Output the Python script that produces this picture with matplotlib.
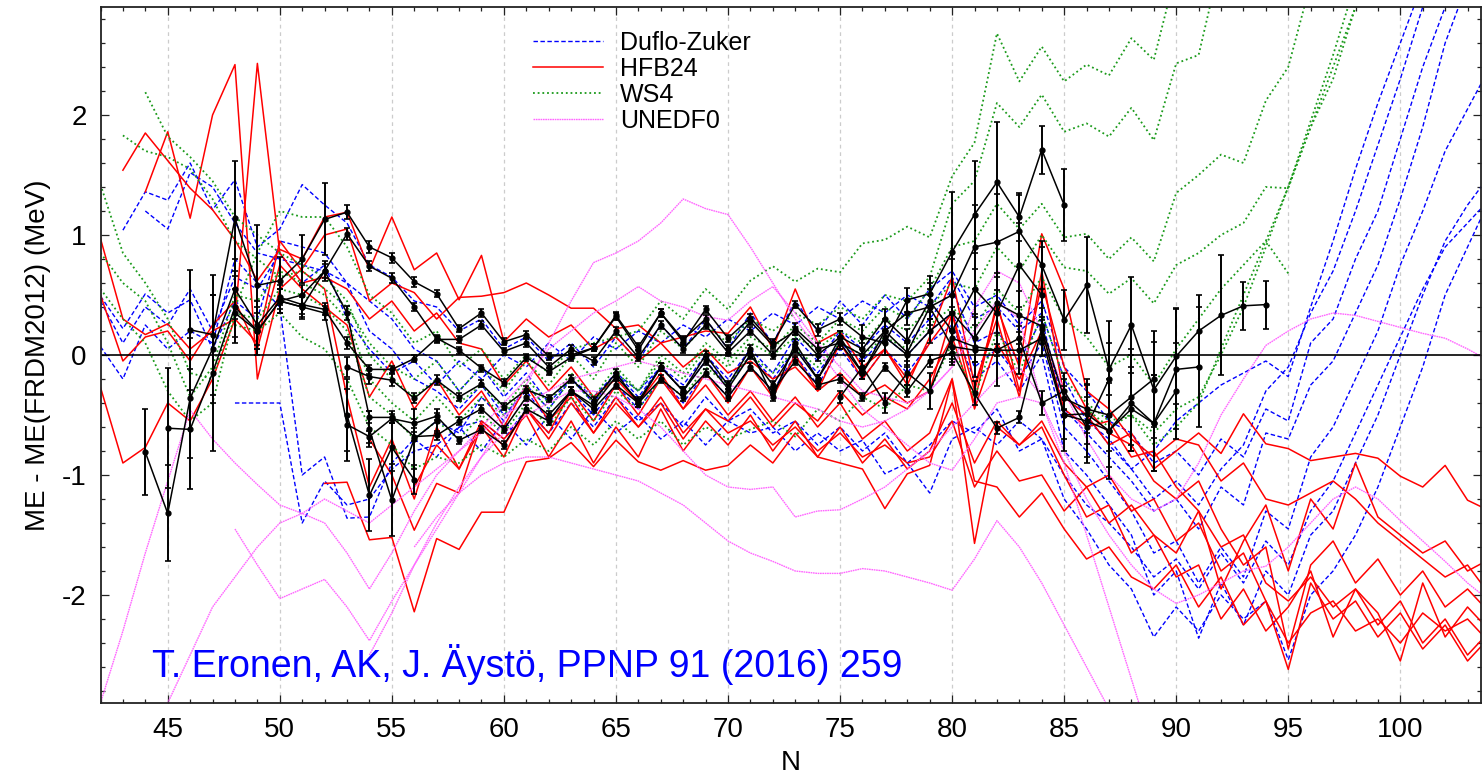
import numpy as np
import matplotlib
matplotlib.use("Agg")
import matplotlib.pyplot as plt
from matplotlib.ticker import MultipleLocator, FixedLocator

plt.rcParams['font.family'] = ['Liberation Sans', 'DejaVu Sans']
plt.rcParams['axes.unicode_minus'] = False

# ---------------- data: (first N, values) per isotopic chain ----------------
# Duflo-Zuker
dz1_start, dz1 = 43, [1.04, 1.36, 1.29, 1.60, 1.21, 1.46, 0.90, 1.05, 1.42, 1.25, 1.10, 0.75, 0.65, 0.45, 0.40,
                      0.20, 0.30, 0.05, 0.15, -0.05, 0.10, -0.10, 0.15, -0.05, 0.25, 0.05, 0.30, 0.05, 0.35, 0.10,
                      0.45, 0.20, 0.45, 0.25, 0.50, 0.30, 0.55, 0.70, 0.40, 0.50, 0.25, 0.45, -0.10, -0.30, -0.55,
                      -0.65, -0.90, -0.80, -1.00, -0.70, -0.85, -0.45, -0.55, 0.10, 0.30, 0.80, 1.20, 1.80, 2.40, 2.90,
                      3.30]
dz2_start, dz2 = 42, [0.49, 0.22, 0.51, 0.35, 0.46, 0.05, 0.45, 0.30, 0.95, 0.90, 0.85, 0.60, 0.45, 0.30, 0.05,
                      -0.05, -0.30, -0.10, -0.35, -0.15, -0.40, -0.20, -0.35, -0.15, -0.30, -0.10, -0.25, 0.00, -0.20, 0.05,
                      -0.15, 0.15, -0.05, 0.20, 0.05, 0.25, 0.10, 0.30, 0.55, 0.10, 0.20, -0.05, 0.30, -0.45, -0.65,
                      -0.85, -1.05, -1.30, -1.20, -1.45, -1.10, -1.25, -0.65, -0.70, -0.25, -0.05, 0.35, 0.75, 1.30, 1.90,
                      2.60, 3.10]
dz3_start, dz3 = 42, [0.07, -0.20, 0.25, 0.05, 0.20, 0.10, 0.80, 0.60, 0.40, -1.00, -0.85, -1.36, -1.35, -0.90, -0.70,
                      -0.55, -0.65, -0.35, -0.55, -0.25, -0.45, -0.20, -0.40, -0.15, -0.35, -0.10, -0.30, -0.05, -0.25, 0.00,
                      -0.20, 0.05, -0.15, 0.10, -0.05, 0.15, 0.00, 0.20, 0.35, -0.10, 0.05, -0.20, 0.10, -0.60, -0.80,
                      -1.05, -1.30, -1.65, -1.55, -1.90, -1.60, -1.85, -1.30, -1.45, -0.85, -0.60, -0.20, 0.20, 0.75, 1.20,
                      1.70, 2.05, 2.40]
dz4_start, dz4 = 44, [1.20, 1.05, 1.52, 1.40, 1.10, 0.85, 0.80, 0.75, 0.70, 0.60, 0.20, 0.05, -0.20, -0.30, -0.45,
                      -0.25, -0.50, -0.30, -0.55, -0.30, -0.50, -0.25, -0.45, -0.20, -0.40, -0.15, -0.35, -0.10, -0.30, 0.00,
                      -0.25, 0.05, -0.20, 0.05, -0.15, 0.10, 0.25, -0.20, -0.05, -0.30, 0.00, -0.80, -1.00, -1.25, -1.50,
                      -2.00, -1.80, -2.36, -1.90, -2.25, -1.80, -2.00, -1.50, -1.30, -0.90, -0.50, 0.00, 0.50, 0.95, 1.25,
                      1.50]
dz5_start, dz5 = 48, [-0.40, -0.40, -0.40, -1.40, -1.05, -1.25, -1.20, -0.95, -0.80, -0.75, -0.60, -0.55, -0.70, -0.45, -0.65,
                      -0.40, -0.60, -0.35, -0.55, -0.40, -0.60, -0.35, -0.55, -0.45, -0.65, -0.55, -0.75, -0.60, -0.80, -0.65,
                      -0.90, -0.75, -0.55, -0.65, -0.45, -0.80, -0.70, -1.20, -1.45, -1.75, -1.95, -2.35, -2.10, -2.30, -2.00,
                      -2.20, -2.05, -2.54, -2.00, -1.80, -1.50, -1.10, -0.60, -0.10, 0.50, 0.90, 1.30]
dz6_start, dz6 = 42, [0.45, 0.10, 0.40, 0.25, 0.55, 0.20, 0.65, 0.55, 0.85, 0.60, 0.75, 0.30, 0.05, -0.15, -0.05,
                      -0.25, -0.05, -0.20, 0.00, -0.10, 0.10, -0.05, 0.15, 0.05, 0.20, 0.10, 0.25, 0.15, 0.30, 0.20,
                      0.35, 0.25, 0.40, 0.30, 0.45, 0.35, 0.50, 0.40, 0.65, 0.30, 0.40, 0.20, 0.35, -0.20, -0.55,
                      -0.70, -0.95, -1.20, -1.05, -1.25, -0.95, -0.75, -0.30, -0.10, 0.35, 0.70, 1.20, 1.75, 2.30, 2.90,
                      3.40]
dz7_start, dz7 = 56, [-0.70, -0.85, -0.60, -0.80, -0.55, -0.75, -0.50, -0.70, -0.45, -0.65, -0.50, -0.70, -0.55, -0.75, -0.55,
                      -0.65, -0.60, -0.80, -0.65, -0.80, -0.71, -0.99, -0.90, -1.15, -0.70, -0.60, -0.75, -0.55, -0.70, -1.00,
                      -1.25, -1.40, -1.60, -1.85, -1.70, -1.95, -1.65, -1.90, -1.55, -1.75, -1.30, -1.05, -0.65, -0.25, 0.15,
                      0.55, 0.90, 1.10, 1.30]
dz8_start, dz8 = 85, [-0.35, -0.50, -0.75, -0.95, -0.80, -0.55, -0.40, -0.25, -0.15, -0.05, -0.18, 0.40, 0.95, 1.55, 2.10,
                      2.60, 3.10]

# HFB24
hfb1_start, hfb1 = 43, [1.54, 1.85, 1.62, 1.39, 1.21, 0.96, 0.62, 0.88, 0.80, 1.15, 1.19, 0.71, 1.15, 0.71, 0.85,
                        0.46, 0.83, 0.11, 0.30, 0.15, 0.25, 0.05, 0.15, -0.05, 0.10, -0.10, 0.05, -0.15, -0.05, -0.20,
                        -0.10, -0.30, -0.15, -0.35, -0.25, -0.40, -0.30, 0.35, -0.45, 0.10, -0.20, 0.20, -0.45, -0.60, -0.55,
                        -0.85, -0.80, -1.10, -1.30, -1.60, -1.50, -1.90, -2.05, -1.85, -2.10, -1.95, -2.25, -2.05, -2.40, -2.20,
                        -2.50, -2.30]
hfb2_start, hfb2 = 44, [1.36, 1.86, 1.14, 2.00, 2.42, -0.20, 0.55, 0.72, 1.00, 1.05, 0.45, 0.60, 0.52, 0.30, 0.48,
                        0.49, 0.52, 0.60, 0.50, 0.39, 0.39, 0.22, 0.25, 0.10, 0.15, 0.20, 0.18, 0.40, 0.05, 0.55,
                        0.10, 0.20, -0.10, 0.05, -0.20, 0.10, 0.35, -0.30, 0.40, -0.10, 1.01, 0.55, -0.30, -0.45, -0.70,
                        -0.85, -0.70, -0.75, -1.05, -0.90, -1.20, -1.25, -1.15, -1.05, -1.20, -1.40, -1.55, -1.70, -1.85, -1.75,
                        -2.00]
hfb3_start, hfb3 = 42, [0.97, 0.30, 0.17, 0.26, 0.05, 0.20, 0.30, 2.43, 0.85, 0.60, 0.65, 0.55, 0.30, 0.45, 0.20,
                        0.35, 0.10, 0.05, -0.25, -0.05, -0.30, -0.10, -0.35, -0.20, -0.40, -0.15, -0.45, -0.25, -0.50, -0.30,
                        -0.55, -0.35, -0.60, -0.40, -0.70, -0.55, -0.80, -0.65, -0.20, -1.57, -0.60, -0.75, -0.55, -0.90, -1.10,
                        -1.00, -1.30, -1.20, -1.55, -1.40, -1.80, -1.65, -2.05, -2.62, -1.90, -2.20, -2.05, -2.35, -2.15, -2.45,
                        -2.25, -2.55, -2.35]
hfb4_start, hfb4 = 42, [0.50, -0.05, 0.15, 0.20, -0.05, 0.25, 0.45, 0.05, 0.75, 0.55, 0.40, 0.25, -0.35, -0.05, -0.45,
                        -0.20, -0.50, -0.30, -0.60, -0.25, -0.55, -0.35, -0.65, -0.40, -0.60, -0.35, -0.65, -0.45, -0.55, -0.35,
                        -0.60, -0.40, -0.55, -0.30, -0.50, -0.35, -0.45, -0.20, 0.15, -0.40, 0.45, -0.30, 0.60, -0.10, -0.45,
                        -0.65, -0.75, -1.05, -1.20, -1.05, -1.45, -1.75, -1.60, -2.45, -1.75, -1.55, -1.90, -1.70, -2.00, -1.80,
                        -2.10, -1.95, -2.15]
hfb5_start, hfb5 = 42, [-0.27, -0.90, -0.77, -0.40, -0.55, -0.20, 0.30, 0.10, 0.95, 0.70, 0.55, -0.35, -1.10, -0.70, -1.20,
                        -0.60, -0.95, -0.55, -0.70, -0.50, -0.85, -0.55, -0.90, -0.60, -0.85, -0.45, -0.80, -0.55, -0.75, -0.50,
                        -0.80, -0.55, -0.85, -0.60, -0.90, -0.70, -0.95, -0.80, -0.40, -0.90, -0.55, -0.75, -0.60, -1.00, -1.35,
                        -1.25, -1.65, -1.50, -1.85, -1.75, -2.20, -1.95, -2.30, -2.10, -1.80, -2.35, -1.95, -2.15, -2.55, -1.90,
                        -2.35, -2.10, -2.30]
hfb6_start, hfb6 = 52, [-1.07, -1.06, -1.54, -1.52, -2.14, -1.53, -1.62, -1.31, -1.31, -0.89, -0.86, -0.73, -0.93, -0.71, -0.89,
                        -0.96, -0.88, -0.96, -0.92, -0.75, -0.90, -0.65, -0.85, -0.90, -0.95, -1.28, -0.99, -0.92, -0.20, -1.05,
                        -1.10, -1.35, -1.15, -1.45, -1.70, -1.60, -1.85, -1.95, -1.75, -2.10, -1.85, -2.25, -2.05, -2.40, -2.15,
                        -2.05, -2.30, -2.20, -2.40, -2.15, -2.30, -2.20, -2.40]
hfb7_start, hfb7 = 54, [-0.70, -1.00, -1.46, -1.07, -1.15, -0.57, -0.76, -0.45, -0.65, -0.30, -0.55, -0.25, -0.50, -0.20, -0.45,
                        -0.15, -0.40, -0.10, -0.35, 0.00, -0.30, 0.10, -0.20, 0.05, -0.25, 0.15, 0.65, -0.25, 0.30, -0.35,
                        0.70, -0.35, -0.50, -0.75, -0.65, -0.95, -0.80, -0.65, -0.82, -0.49, -0.74, -0.78, -0.88, -0.85, -0.82,
                        -0.86, -1.01, -1.10, -0.92, -1.21, -1.30]
hfb8_start, hfb8 = 56, [-1.10, -0.75, -0.95, -0.60, -0.85, -0.45, -0.70, -0.40, -0.65, -0.35, -0.60, -0.40, -0.70, -0.45, -0.65,
                        -0.55, -0.75, -0.60, -0.80, -0.65, -0.85, -0.75, -0.90, -0.85, -0.55, -1.10, -0.80, -1.05, -1.00, -1.30,
                        -1.10, -1.40, -1.25, -1.50, -1.65, -1.30, -1.95, -1.55, -1.25, -1.80, -1.20, -1.45, -0.90, -1.35, -1.50,
                        -1.65, -1.55, -1.80, -1.70]

# WS4
ws1_start, ws1 = 42, [1.42, 0.85, 0.60, 0.30, -0.15, -0.20, 0.40, 0.85, 1.20, 1.15, 1.15, 0.90, 0.50, 0.35, 0.10,
                      0.20, -0.10, 0.05, -0.20, 0.00, -0.15, 0.05, 0.10, 0.15, 0.20, 0.45, 0.30, 0.55, 0.38, 0.62,
                      0.74, 0.61, 0.72, 0.69, 0.93, 0.96, 1.07, 0.98, 1.49, 1.77, 2.68, 2.28, 2.57, 2.28, 2.42,
                      2.33, 2.64, 2.46, 3.20]
ws2_start, ws2 = 43, [1.83, 1.70, 1.65, 1.55, 1.30, 0.95, 0.80, 0.65, 0.70, 0.55, 0.40, 0.10, -0.10, -0.20, -0.05,
                      -0.30, -0.10, -0.30, -0.05, -0.25, 0.00, -0.20, 0.10, -0.10, 0.20, 0.05, 0.25, 0.10, 0.30, 0.20,
                      0.35, 0.25, 0.40, 0.30, 0.50, 0.45, 0.65, 1.26, 1.45, 2.10, 1.90, 2.17, 1.86, 1.93, 1.82,
                      2.06, 1.79, 2.43, 2.50, 3.30]
ws3_start, ws3 = 44, [2.19, 1.82, 1.65, 1.45, 1.15, 1.00, 0.85, 0.75, 0.65, 0.45, 0.00, -0.20, -0.35, -0.20, -0.40,
                      -0.25, -0.45, -0.20, -0.40, -0.15, -0.35, -0.10, -0.30, 0.00, -0.15, 0.10, -0.05, 0.15, 0.05, 0.25,
                      0.10, 0.30, 0.20, 0.40, 0.30, 0.55, 0.90, 0.95, 1.26, 1.05, 1.26, 0.98, 1.01, 0.80, 0.98,
                      0.78, 1.35, 1.50, 1.67, 1.60, 2.12, 2.40, 3.10]
ws4_start, ws4 = 42, [0.85, 0.60, 0.45, 0.10, -0.35, -0.10, 0.50, 0.45, 0.70, 0.60, 0.50, 0.30, -0.20, -0.40, -0.55,
                      -0.35, -0.55, -0.35, -0.50, -0.25, -0.45, -0.20, -0.40, -0.15, -0.30, -0.05, -0.20, 0.05, -0.10, 0.10,
                      0.00, 0.15, 0.05, 0.20, 0.10, 0.30, 0.20, 0.40, 0.60, 0.55, 0.90, 0.70, 1.00, 0.73, 0.70,
                      0.51, 0.64, 0.43, 0.75, 0.85, 1.00, 1.10, 1.40, 1.39, 1.90, 2.30, 2.90, 3.30]
ws5_start, ws5 = 42, [0.55, 0.30, 0.10, -0.30, -0.55, -0.40, 0.35, 0.30, 0.55, 0.50, 0.40, 0.20, -0.35, -0.50, -0.70,
                      -0.55, -0.70, -0.50, -0.65, -0.40, -0.60, -0.35, -0.55, -0.30, -0.45, -0.20, -0.35, -0.10, -0.25, 0.00,
                      -0.15, 0.05, -0.10, 0.10, 0.00, 0.15, 0.05, 0.25, 0.40, 0.20, 0.55, 0.35, 0.65, 0.30, 0.15,
                      -0.10, 0.00, -0.25, 0.05, 0.30, 0.55, 0.75, 0.95, 0.68]
ws6_start, ws6 = 48, [0.25, 0.20, 0.35, 0.15, 0.05, -0.20, -0.60, -0.75, -0.95, -0.85, -0.90, -0.75, -0.85, -0.70, -0.80,
                      -0.60, -0.75, -0.55, -0.70, -0.55, -0.75, -0.60, -0.70, -0.62, -0.55, -0.68, -0.45, -0.55, -0.35, -0.45,
                      -0.25, -0.30, 0.10, -0.35, 0.20, -0.15, 0.35, -0.20, -0.40, -0.55, -0.50, -0.65, -0.45, -0.35, 0.00,
                      0.40, 0.90, 1.40, 1.90, 2.40, 2.90, 3.30]
ws7_start, ws7 = 86, [-0.45, -0.60, -0.50, -0.75, -0.60, -0.40, 0.05, 0.50, 0.95, 1.40, 1.95, 2.50, 3.10]

# UNEDF0
un1_start, un1 = 42, [-2.90, -2.30, -1.65, -1.05, -0.46, -0.70, -0.90, -1.08, -1.25, -1.32, -1.20, -1.30, -1.40, -1.25, -1.10,
                      -0.95, -0.80, -0.65, -0.50, -0.40, -0.30, -0.20, -0.15, -0.10, -0.05, -0.10, -0.15, -0.20, -0.25, -0.30,
                      -0.35, -0.40, -0.45, -0.55, -0.60, -0.55, -0.45, -0.30, -0.10, 0.20, 0.45, 0.30, -0.40, -0.90, -1.50,
                      -2.10, -2.70, -3.30]
un2_start, un2 = 48, [-1.45, -1.75, -2.03, -1.95, -1.87, -2.10, -2.38, -2.05, -1.75, -1.45, -1.15, -0.85, -0.55, -0.25, 0.10,
                      0.45, 0.77, 0.85, 0.95, 1.10, 1.30, 1.22, 1.17, 0.90, 0.60, 0.30, 0.05, -0.20, -0.45, -0.60,
                      -0.75, -0.90, -0.96, -0.70, -0.40, -0.35, -0.40, -0.80, -1.20, -1.50, -1.75, -1.95, -2.07, -2.00, -1.90,
                      -1.80, -1.76, -1.60, -1.40, -1.20, -1.10, -1.20, -1.38, -1.55, -1.72, -1.90, -2.05]
un3_start, un3 = 45, [-2.90, -2.50, -2.10, -1.85, -1.60, -1.40, -1.32, -1.40, -1.65, -1.95, -1.65, -1.30, -1.00, -0.80, -0.60,
                      -0.40, -0.20, 0.05, 0.20, 0.35, 0.45, 0.57, 0.45, 0.40, 0.32, 0.29, 0.45, 0.57, 0.35, 0.10,
                      -0.10, -0.30, -0.35, -0.40, -0.30, -0.10, 0.40, 0.70, 0.60, 0.20, -0.30, -0.70, -1.00, -1.20, -1.30,
                      -1.20, -0.90, -0.50, -0.20, 0.08, 0.20, 0.30, 0.35, 0.33, 0.28, 0.23, 0.18, 0.14, 0.05, -0.05]
un4_start, un4 = 54, [-2.50, -2.15, -1.75, -1.40, -1.10, -0.85, -0.65, -0.50, -0.40, -0.30, -0.30, -0.35, -0.45, -0.60, -0.80,
                      -1.00, -1.10, -1.12, -1.10, -1.35, -1.30, -1.29, -1.20, -1.10, -0.95, -0.80, -0.60, -0.40, -0.20, -0.10,
                      -0.35]
un5_start, un5 = 56, [-1.60, -1.35, -1.15, -1.00, -0.90, -0.85, -0.85, -0.90, -0.95, -1.00, -1.05, -1.15, -1.25, -1.40, -1.55,
                      -1.65, -1.72, -1.80, -1.82, -1.82, -1.78, -1.80, -1.85, -1.90, -1.96, -1.70, -1.38, -1.60, -1.90, -2.25,
                      -2.60, -2.95]

# experimental (black, with uncertainties)
ex1_start = 44
ex1 = [-0.81, -1.32, -0.36, 0.05, 0.55, 0.25, 0.48, 0.42, 0.38, 0.10, -0.12, -0.12, -0.03, 0.14, 0.04, -0.11, -0.23,
       -0.02, -0.14, -0.02, 0.06, 0.32, 0.04, 0.35, 0.13, 0.30, 0.05, 0.28, 0.08, 0.20, 0.00, 0.15, 0.05, 0.30, 0.12,
       0.45, 0.20, 0.55, 0.35, 0.75, 0.50]
ex1_err = [0.36, 0.40, 0.50, 0.45, 0.25, 0.20, 0.10, 0.08, 0.05, 0.05, 0.04, 0.03, 0.03, 0.03, 0.03, 0.03, 0.03,
           0.03, 0.03, 0.03, 0.03, 0.03, 0.03, 0.03, 0.03, 0.03, 0.03, 0.03, 0.03, 0.03, 0.05, 0.05, 0.05, 0.08, 0.10,
           0.15, 0.20, 0.30, 0.30, 0.35, 0.40]
ex2_start = 45
ex2 = [-0.61, -0.62, -0.15, 0.40, 0.20, 0.45, 0.50, 0.70, 1.01, 0.74, 0.64, 0.40, 0.13, 0.13, 0.25, 0.03, 0.10,
       -0.10, 0.05, -0.05, 0.20, -0.02, 0.25, 0.05, 0.25, 0.02, 0.20, 0.00, 0.22, 0.05, 0.10, 0.00, 0.20, 0.35, 0.40,
       0.50, 0.90, 0.94, 1.03, 0.75, 0.29, 0.58, -0.12, 0.25, -0.29, -0.01, 0.20, 0.33, 0.41, 0.42]
ex2_err = [0.50, 0.50, 0.65, 0.30, 0.20, 0.10, 0.08, 0.06, 0.05, 0.04, 0.04, 0.03, 0.03, 0.03, 0.03, 0.03, 0.03,
           0.03, 0.03, 0.03, 0.03, 0.03, 0.03, 0.03, 0.03, 0.03, 0.03, 0.03, 0.05, 0.05, 0.05, 0.05, 0.10, 0.10, 0.15,
           0.30, 0.35, 0.40, 0.30, 0.20, 0.25, 0.40, 0.40, 0.40, 0.40, 0.40, 0.30, 0.50, 0.20, 0.20]
ex3_start = 46
ex3 = [0.21, 0.17, 1.14, 0.58, 0.62, 0.80, 1.13, 1.19, 0.90, 0.81, 0.61, 0.51, 0.22, 0.35, 0.11, 0.17, -0.01, 0.00,
       0.06, 0.33, 0.07, 0.35, 0.11, 0.38, 0.14, 0.31, 0.10, 0.42, 0.21, 0.30, 0.15, 0.10, 0.46, 0.51, 0.86, 1.17,
       1.44, 1.15, 1.71, 1.25]
ex3_err = [0.50, 0.50, 0.48, 0.50, 0.20, 0.20, 0.30, 0.06, 0.05, 0.04, 0.04, 0.03, 0.03, 0.03, 0.03, 0.03, 0.03, 0.03,
           0.03, 0.03, 0.03, 0.03, 0.03, 0.03, 0.03, 0.03, 0.03, 0.03, 0.05, 0.05, 0.10, 0.10, 0.10, 0.15, 0.50, 0.45,
           0.50, 0.20, 0.20, 0.30]
ex4_start = 48
ex4 = [0.35, 0.20, 0.45, 0.40, 0.35, -0.58, -0.68, -0.53, -0.57, -0.51, -0.71, -0.62, -0.75, -0.45, -0.55, -0.30,
       -0.45, -0.25, -0.40, -0.20, -0.35, -0.15, -0.35, -0.10, -0.30, -0.05, -0.25, -0.20, -0.35, -0.10, -0.30, -0.05,
       0.02, -0.32, -0.61, -0.52, 0.22, -0.50, -0.55, -0.63, -0.40, -0.57, -0.30]
ex4_err = [0.20, 0.15, 0.10, 0.08, 0.06, 0.30, 0.05, 0.04, 0.04, 0.03, 0.03, 0.03, 0.03, 0.03, 0.03, 0.03,
           0.03, 0.03, 0.03, 0.03, 0.03, 0.03, 0.03, 0.03, 0.03, 0.03, 0.03, 0.03, 0.03, 0.03, 0.05, 0.05,
           0.05, 0.10, 0.05, 0.05, 0.10, 0.30, 0.35, 0.40, 0.40, 0.40, 0.40]
ex5_start = 50
ex5 = [0.45, 0.40, 0.70, 0.35, -0.52, -0.52, -0.68, -0.67, -0.55, -0.45, -0.62, -0.35, -0.50, -0.30, -0.42, -0.18,
       -0.38, -0.10, -0.30, -0.05, -0.28, 0.00, -0.25, 0.05, -0.20, 0.10, -0.15, 0.15, 0.00, 0.20, 0.35, 0.14, 0.43,
       0.33, 0.24, -0.36, -0.45, -0.50, -0.35, -0.20]
ex5_err = [0.10, 0.10, 0.08, 0.06, 0.05, 0.05, 0.04, 0.04, 0.03, 0.03, 0.03, 0.03, 0.03, 0.03, 0.03, 0.03,
           0.03, 0.03, 0.03, 0.03, 0.03, 0.03, 0.03, 0.03, 0.03, 0.05, 0.05, 0.05, 0.10, 0.10, 0.15, 0.20, 0.25,
           0.20, 0.15, 0.10, 0.20, 0.30, 0.40, 0.40]
ex6_start = 53
ex6 = [-0.10, -0.18, -0.21, -0.36, -0.21, -0.35, -0.24, -0.43, -0.29, -0.36, -0.20, -0.38, -0.15, -0.40, -0.10, -0.30,
       0.00, -0.25, 0.05, -0.35, 0.10, -0.20, 0.15, -0.15, 0.20, 0.02, 0.40, 0.07, 0.04, 0.04, 0.14, -0.40, -0.30,
       -0.60, -0.20]
ex6_err = [0.08, 0.06, 0.05, 0.04, 0.04, 0.03, 0.03, 0.03, 0.03, 0.03, 0.03, 0.03, 0.03, 0.03, 0.03, 0.03,
           0.03, 0.03, 0.03, 0.03, 0.03, 0.03, 0.05, 0.05, 0.08, 0.10, 0.10, 0.15, 0.10, 0.05, 0.05, 0.10, 0.15,
           0.25, 0.30]
ex7_start = 53
ex7 = [-0.50, -1.17, -0.77, -1.04]
ex7_err = [0.30, 0.30, 0.20, 0.12]
ex8_start = 54
ex8 = [-0.62, -1.21, -0.70, -0.55]
ex8_err = [0.15, 0.30, 0.25, 0.10]
ex9_start = 75
ex9 = [-0.35, -0.10, -0.40, -0.15, -0.30, 0.14, 0.07, 0.04, 0.04, 0.14, -0.50, -0.49, -0.63, -0.45, -0.57, -0.12, -0.10]
ex9_err = [0.05, 0.05, 0.08, 0.10, 0.15, 0.20, 0.25, 0.30, 0.20, 0.15, 0.20, 0.25, 0.30, 0.35, 0.40, 0.50, 0.50]

model_names = ["Duflo-Zuker", "HFB24", "WS4", "UNEDF0"]
x_ticks = [45, 50, 55, 60, 65, 70, 75, 80, 85, 90, 95, 100]
y_ticks = [-2, -1, 0, 1, 2]
credit = "T. Eronen, AK, J. Äystö, PPNP 91 (2016) 259"

dz_chains = [(dz1_start, dz1), (dz2_start, dz2), (dz3_start, dz3), (dz4_start, dz4),
             (dz5_start, dz5), (dz6_start, dz6), (dz7_start, dz7), (dz8_start, dz8)]
hfb_chains = [(hfb1_start, hfb1), (hfb2_start, hfb2), (hfb3_start, hfb3), (hfb4_start, hfb4),
              (hfb5_start, hfb5), (hfb6_start, hfb6), (hfb7_start, hfb7), (hfb8_start, hfb8)]
ws_chains = [(ws1_start, ws1), (ws2_start, ws2), (ws3_start, ws3), (ws4_start, ws4),
             (ws5_start, ws5), (ws6_start, ws6), (ws7_start, ws7)]
un_chains = [(un1_start, un1), (un2_start, un2), (un3_start, un3), (un4_start, un4), (un5_start, un5)]
ex_chains = [(ex1_start, ex1, ex1_err), (ex2_start, ex2, ex2_err), (ex3_start, ex3, ex3_err),
             (ex4_start, ex4, ex4_err), (ex5_start, ex5, ex5_err), (ex6_start, ex6, ex6_err),
             (ex7_start, ex7, ex7_err), (ex8_start, ex8, ex8_err), (ex9_start, ex9, ex9_err)]

# ---------------- figure ----------------
W, H = 1482, 776
fig = plt.figure(figsize=(W / 100, H / 100), dpi=100)
ax = fig.add_axes([100.5 / W, 73 / H, 1380.5 / W, 696 / H])
ax.set_xlim(42, 103.6)
ax.set_ylim(-2.9, 2.9)

styles = [
    dict(color="#0000ff", lw=1.0, ls=(0, (3.2, 1.8)), zorder=2.0),
    dict(color="#ff0000", lw=1.1, ls="-", zorder=2.1),
    dict(color="#1a9a1a", lw=1.3, ls=(0, (1, 1.6)), zorder=2.2),
    dict(color="#ff66ff", lw=1.0, ls=(0, (1.2, 0.5)), zorder=2.3),
]
handles = []
for chains, st, name in zip([dz_chains, hfb_chains, ws_chains, un_chains], styles, model_names):
    first = None
    for start, vals in chains:
        n = np.arange(start, start + len(vals))
        ln, = ax.plot(n, vals, **st)
        if first is None:
            first = ln
    handles.append(first)

ax.axhline(0, color="black", lw=1.2, zorder=2.5)

for start, vals, err in ex_chains:
    n = np.arange(start, start + len(vals))
    ax.errorbar(n, vals, yerr=err, color="black", lw=1.1, marker="o", ms=3.5,
                capsize=2.5, elinewidth=1.4, capthick=1.2, zorder=3)

# axes styling
ax.xaxis.set_major_locator(FixedLocator(x_ticks))
ax.xaxis.set_minor_locator(MultipleLocator(1))
ax.yaxis.set_major_locator(FixedLocator(y_ticks))
ax.yaxis.set_minor_locator(MultipleLocator(0.2))
ax.tick_params(which="both", direction="in", top=True, right=True, width=0.9, color="#222222")
ax.tick_params(which="major", length=6, labelsize=20)
ax.tick_params(which="minor", length=3)
ax.tick_params(axis="x", pad=10)
ax.tick_params(axis="y", pad=10)
ax.xaxis.grid(True, which="major", color="#cccccc", ls=(0, (3, 3)), lw=0.9)
for sp in ax.spines.values():
    sp.set_linewidth(1.3)
    sp.set_color("#222222")

ax.set_xlabel("N", fontsize=20, labelpad=5)
ax.set_ylabel("ME - ME(FRDM2012) (MeV)", fontsize=20, labelpad=8)

ax.text(44.29, -2.68, credit, color="#0000ff", fontsize=27, ha="left", va="baseline", zorder=5)

fig.legend(handles, model_names, loc="upper left", bbox_to_anchor=(533 / W, 1 - 31 / H),
           frameon=False, fontsize=18, handlelength=2.8, handletextpad=0.68,
           labelspacing=0.08, borderpad=0, borderaxespad=0)

fig.savefig("out.png", dpi=100)
